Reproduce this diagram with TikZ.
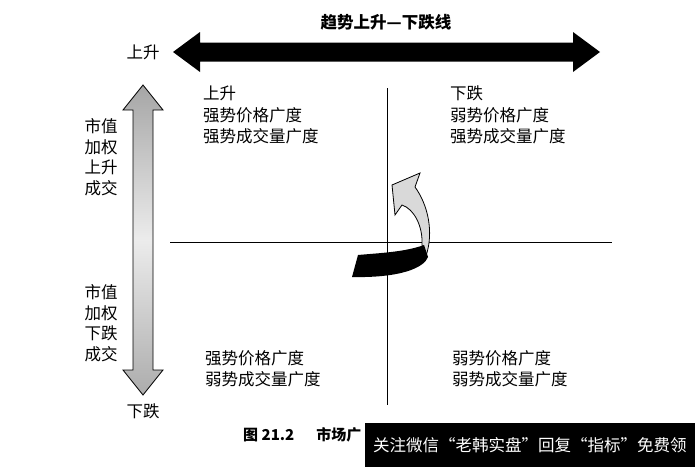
\documentclass[tikz,border=0pt]{standalone}
\usepackage{fontspec}
\setmainfont{Noto Sans CJK SC}
\usetikzlibrary{positioning, calc}
\tikzset{
  qtext/.style   = {font=\fontsize{16.5}{21.5}\selectfont, align=left, inner sep=0pt, anchor=west},
  sidetext/.style = {font=\fontsize{16.5}{20.5}\selectfont, align=center, inner sep=0pt},
  axis/.style    = {draw=black, line width=0.8pt},
  trendarrow/.style = {fill=black},
  volarrow/.style = {draw=black, line width=0.8pt, top color=gray!70,
                     bottom color=gray!65, middle color=gray!15},
  turnhead/.style = {draw=black, line width=0.8pt, fill=gray!30},
  turntail/.style = {fill=black},
}

\begin{document}
\begin{tikzpicture}[x=1pt, y=-1pt]
\useasboundingbox (0,0) rectangle (695,471);

% axes of the four quadrants
\coordinate (xl) at (170,242);
\coordinate (xr) at (612,242);
\coordinate (yt) at (387,88);
\coordinate (yb) at (387,405);
\draw [axis] (xl) -- (xr);
\draw [axis] (yt) -- (yb);

% trend line: black double arrow on top
\coordinate (tl) at (173,52);
\coordinate (tr) at (600,52);
\fill [trendarrow] (tl) -- ($(tl)+(27,-20)$) -- ($(tl)+(27,-9.5)$)
  -- ($(tr)+(-27,-9.5)$) -- ($(tr)+(-27,-20)$) -- (tr)
  -- ($(tr)+(-27,20)$) -- ($(tr)+(-27,9.5)$)
  -- ($(tl)+(27,9.5)$) -- ($(tl)+(27,20)$) -- cycle;
\node (trend) [font=\bfseries\fontsize{16.5}{16.5}\selectfont] at (386,22) {趋势上升—下跌线};
\node (up) [sidetext] at (143,52) {上升};

% volume line: shaded double arrow on the left
\coordinate (vt) at (143,85);
\coordinate (vb) at (143,395);
\draw [volarrow] (vt) -- ($(vt)+(20,25)$) -- ($(vt)+(10,25)$)
  -- ($(vb)+(10,-25)$) -- ($(vb)+(20,-25)$) -- (vb)
  -- ($(vb)+(-20,-25)$) -- ($(vb)+(-10,-25)$)
  -- ($(vt)+(-10,25)$) -- ($(vt)+(-20,25)$) -- cycle;
\node (down) [sidetext, below=9pt of vb] {下跌};
\node (volup) [sidetext] at (101,157) {市值\\加权\\上升\\成交};
\node (voldn) [sidetext] at (101,323) {市值\\加权\\下跌\\成交};

% quadrant texts
\node (q1) [qtext] at (203,115) {上升\\强势价格广度\\强势成交量广度};
\node (q2) [qtext] at (450,115) {下跌\\弱势价格广度\\强势成交量广度};
\node (q3) [qtext] at (205,369) {强势价格广度\\弱势成交量广度};
\node (q4) [qtext] at (452,369) {弱势价格广度\\弱势成交量广度};

% turning arrow round the centre
\draw [turnhead] (392,185) -- (420,173) -- (415,187)
  .. controls (428,205) and (434,232) .. (426,256) -- (422,245)
  .. controls (423,226) and (414,209) .. (402,205) -- (395,215) -- cycle;
\fill [turntail] (358,255) .. controls (380,253) and (405,252) .. (424,245)
  -- (428,257) .. controls (424,268) and (400,278) .. (352,277) -- cycle;

% caption and the black banner over it
\node (cap) [font=\bfseries\fontsize{15}{15}\selectfont, anchor=west, inner sep=0pt]
  at (243,435) {图 21.2\hspace{22pt}市场广};
\fill [black] (365,423) rectangle (695,467);
\node (banner) [font=\fontsize{16.5}{16.5}\selectfont, text=white, anchor=west, inner sep=0pt]
  at (373,445) {关注微信“老韩实盘”回复“指标”免费领};
\end{tikzpicture}
\end{document}
